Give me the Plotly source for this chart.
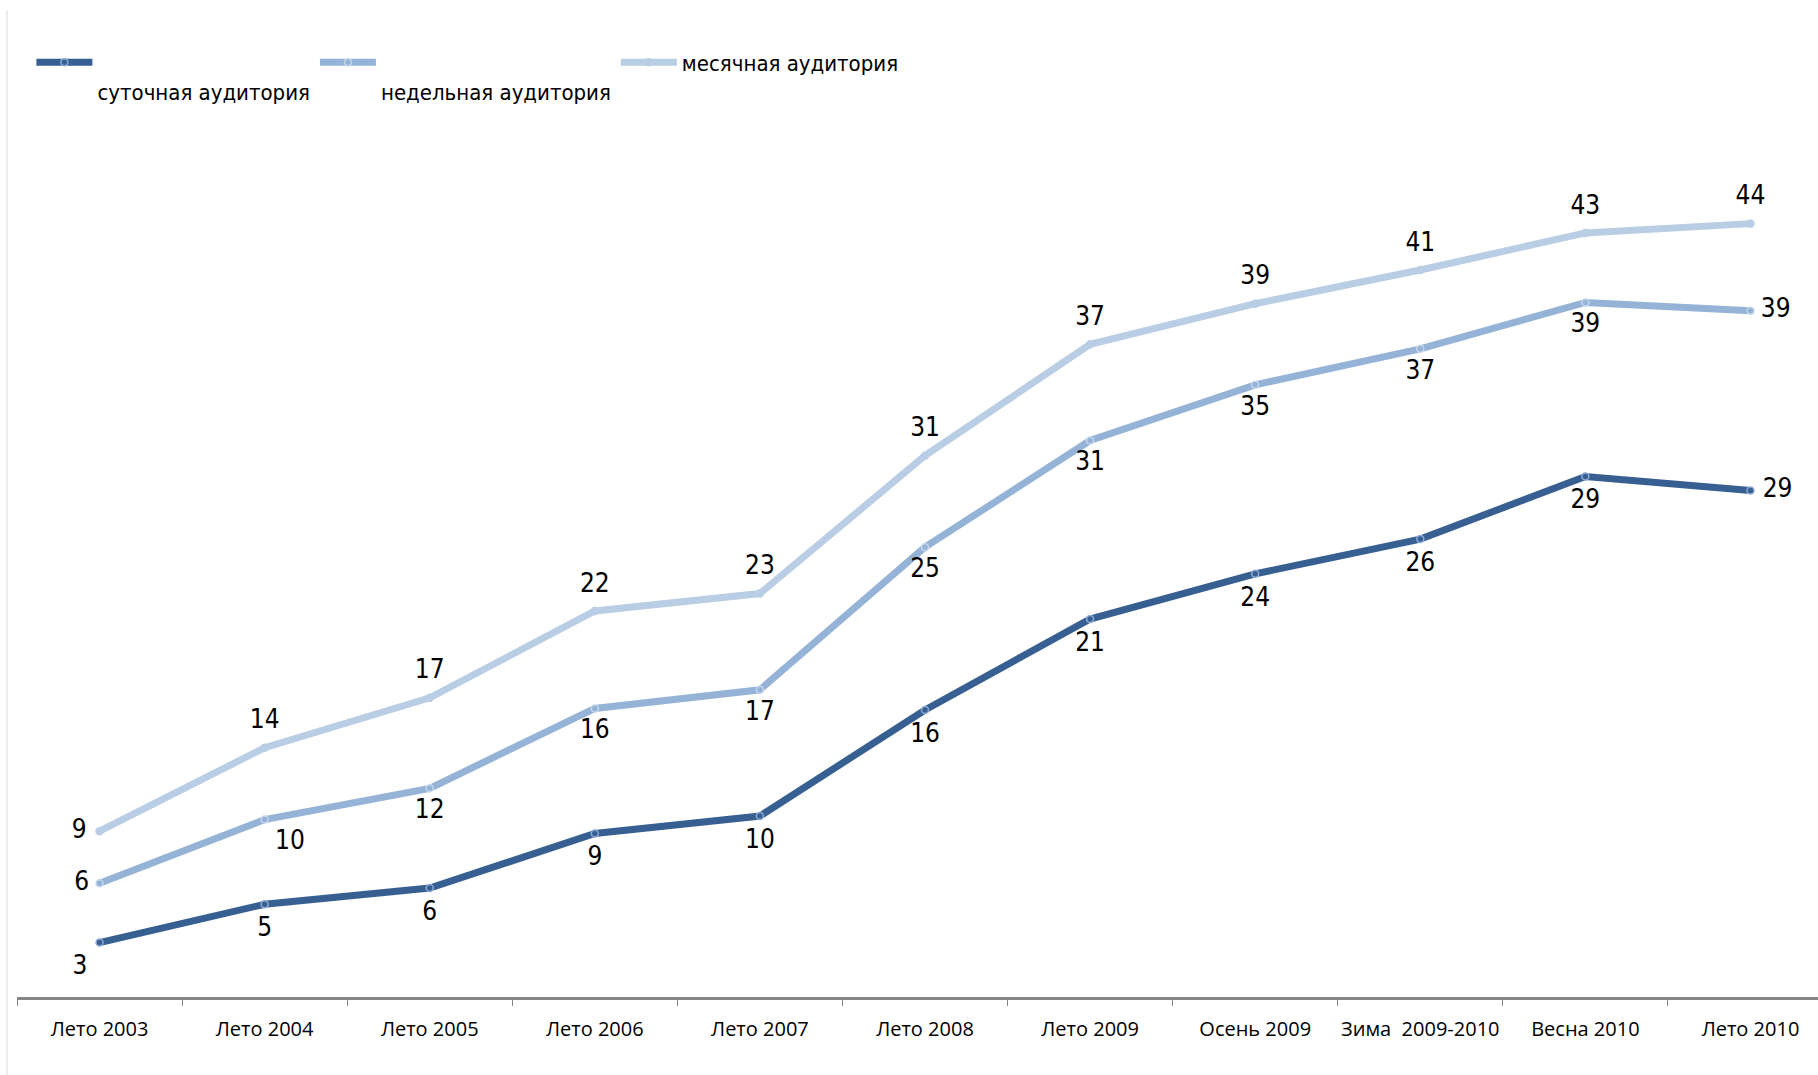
import plotly.graph_objects as go

categories = ["Лето 2003", "Лето 2004", "Лето 2005", "Лето 2006", "Лето 2007", "Лето 2008",
              "Лето 2009", "Осень 2009", "Зима  2009-2010", "Весна 2010", "Лето 2010"]
daily = [2.87, 5.05, 5.97, 9.08, 10.07, 16.11, 21.29, 23.86, 25.84, 29.4, 28.6]
weekly = [6.24, 9.87, 11.65, 16.2, 17.26, 25.38, 31.45, 34.62, 36.67, 39.31, 38.84]
monthly = [9.21, 13.96, 16.8, 21.75, 22.74, 30.59, 36.93, 39.24, 41.16, 43.27, 43.8]

names = ["<br>суточная аудитория", "<br>недельная аудитория", "месячная аудитория"]

LABEL_FONT = "Liberation Sans Narrow, DejaVu Sans Condensed, Roboto, sans-serif"
TICK_FONT = "Open Sans, sans-serif"

series = [
    dict(y=daily, name=names[0], color="#375f91", mline="#8eaad6", width=7,
         pos=["bottom left"] + ["bottom center"] * 9 + ["middle right"], lsize=18),
    dict(y=weekly, name=names[1], color="#95b3d7", mline="#c6d6eb", width=7,
         pos=["middle left", "bottom right"] + ["bottom center"] * 8 + ["middle right"], lsize=15),
    dict(y=monthly, name=names[2], color="#b9cde5", mline="#b9cde5", width=7,
         pos=["middle left"] + ["top center"] * 10, lsize=19),
]

fig = go.Figure()
for s in series:
    fig.add_trace(go.Scatter(
        x=categories, y=s["y"], name=s["name"], mode="lines+markers",
        line=dict(color=s["color"], width=s["width"]),
        marker=dict(size=7, color=s["color"], line=dict(color=s["mline"], width=1.5)),
        hoverinfo="x+y",
    ))
for s in series:
    fig.add_trace(go.Scatter(
        x=categories, y=s["y"], mode="markers+text", showlegend=False,
        marker=dict(size=s["lsize"], color="rgba(0,0,0,0)"),
        texttemplate="%{y:.0f}", textposition=s["pos"],
        textfont=dict(family=LABEL_FONT, size=26, color="#000000"),
        hoverinfo="skip",
    ))

fig.update_layout(
    width=1818, height=1075,
    margin=dict(l=17, r=0, t=130, b=78, pad=0, autoexpand=False),
    paper_bgcolor="white", plot_bgcolor="white",
    xaxis=dict(
        type="category", range=[-0.5, 10.409], showgrid=False, zeroline=False,
        showline=True, linecolor="#868686", linewidth=2.5, automargin=False,
        ticks="outside", tickson="boundaries", ticklen=6, tickcolor="#868686", tickwidth=1,
        tickangle=0, ticklabelstandoff=12,
        tickfont=dict(family=TICK_FONT, size=20, color="#000000"),
        fixedrange=True,
    ),
    yaxis=dict(range=[-0.23, 49.13], visible=False, fixedrange=True, automargin=False),
    legend=dict(
        orientation="h", x=0.008, y=1.102, xanchor="left", yanchor="top",
        valign="top", itemwidth=56, bgcolor="rgba(0,0,0,0)",
        font=dict(family=LABEL_FONT, size=22, color="#000000"),
    ),
    shapes=[dict(type="line", xref="paper", yref="paper", x0=-0.00555, x1=-0.00555,
                 y0=-0.09, y1=1.138, line=dict(color="#dcdcdc", width=1))],
    showlegend=True,
)

fig.write_html("out.html", config={"displayModeBar": False},
               post_script="document.body.style.margin='0';")
